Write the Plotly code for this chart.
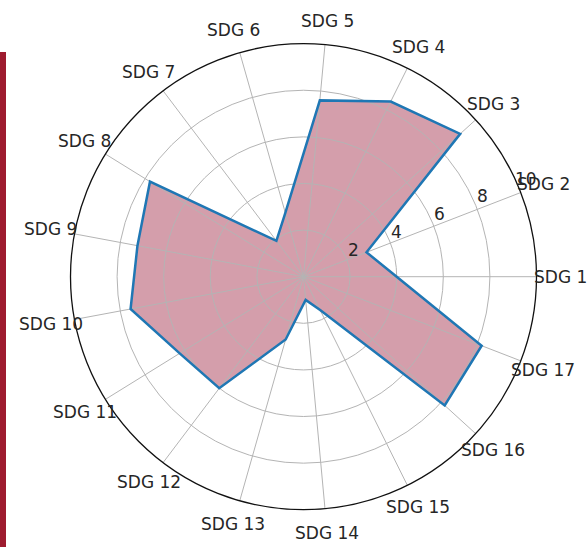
import math
import plotly.graph_objects as go

categories = [f"SDG {i}" for i in range(1, 18)]
values = [4.0, 2.9, 9.1, 8.4, 7.6, 2.85, 1.93, 7.75, 7.25, 7.55, 6.25, 6.0, 2.8, 1.0, 1.6, 8.2, 8.2]
radial_ticks = [2, 4, 6, 8, 10]
r_max = 10

n = len(categories)
step = 360.0 / n
theta = [i * step for i in range(n)]
theta_closed = theta + [theta[0]]
values_closed = values + [values[0]]

W, H = 587, 547
cx, cy, R = 303.5, 276.7, 233.0
dom_x = [(cx - R) / W, (cx + R) / W]
dom_y = [(H - cy - R) / H, (H - cy + R) / H]

FONT = "DejaVu Sans"
TXT = "#262626"
LABEL_R = 1.103      # category label distance, fraction of the outer radius
RLABEL_ANGLE = 22.5  # angle where radial tick labels sit

fig = go.Figure()

# filled area (bottom polar, below the grid)
fig.add_trace(go.Scatterpolar(
    r=values_closed, theta=theta_closed, mode="none",
    fill="toself", fillcolor="rgb(212,158,171)",
    hoverinfo="skip", subplot="polar"))

# outline (top polar, above the grid)
fig.add_trace(go.Scatterpolar(
    r=values_closed, theta=theta_closed, mode="lines",
    line=dict(color="#1f77b4", width=2.5),
    subplot="polar2"))

common_ang = dict(rotation=0, direction="counterclockwise",
                  tickmode="array", tickvals=theta, ticktext=categories)
common_rad = dict(range=[0, r_max], tickmode="array", tickvals=radial_ticks)


def to_paper(frac_r, ang_deg):
    a = math.radians(ang_deg)
    px = cx + frac_r * R * math.cos(a)
    py = cy - frac_r * R * math.sin(a)
    return px / W, (H - py) / H


annotations = []
for ang, lab in zip(theta, categories):
    x, y = to_paper(LABEL_R, ang)
    annotations.append(dict(x=x, y=y, xref="paper", yref="paper", text=lab,
                            showarrow=False, xanchor="center", yanchor="middle",
                            font=dict(family=FONT, size=17, color=TXT)))
for t in radial_ticks:
    x, y = to_paper(t / r_max, RLABEL_ANGLE)
    annotations.append(dict(x=x, y=y, xref="paper", yref="paper", text=str(t),
                            showarrow=False, xanchor="center", yanchor="middle",
                            xshift=7, yshift=9,
                            font=dict(family=FONT, size=17, color=TXT)))

fig.update_layout(
    width=W, height=H,
    margin=dict(l=0, r=0, t=0, b=0),
    paper_bgcolor="white",
    showlegend=False,
    font=dict(family=FONT, size=17, color=TXT),
    polar=dict(
        domain=dict(x=dom_x, y=dom_y),
        bgcolor="white",
        angularaxis=dict(**common_ang, showgrid=False, showline=False,
                         showticklabels=False, ticks=""),
        radialaxis=dict(**common_rad, showgrid=False, showline=False,
                        showticklabels=False, ticks=""),
    ),
    polar2=dict(
        domain=dict(x=dom_x, y=dom_y),
        bgcolor="rgba(0,0,0,0)",
        angularaxis=dict(**common_ang, showgrid=True, gridcolor="#b4b4b4",
                         gridwidth=1.2, showline=True, linecolor="#111111",
                         linewidth=1.3, ticks="", showticklabels=False),
        radialaxis=dict(**common_rad, angle=RLABEL_ANGLE, showgrid=True,
                        gridcolor="#b4b4b4", gridwidth=1.2, showline=False,
                        ticks="", showticklabels=False),
    ),
    annotations=annotations,
    shapes=[dict(type="rect", xref="paper", yref="paper",
                 x0=0, x1=6 / W, y0=0, y1=(H - 52) / H,
                 fillcolor="#9e1b2f", line=dict(width=0), layer="below")],
)

fig.write_html("out.html",
               config={"displayModeBar": False},
               post_script="document.body.style.margin='0px';document.body.style.overflow='hidden';")
